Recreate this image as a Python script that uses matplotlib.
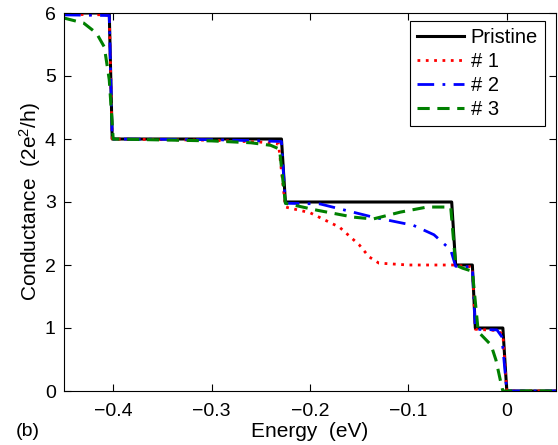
import matplotlib
matplotlib.use('Agg')
import matplotlib.pyplot as plt

plt.rcParams['font.family'] = ['Liberation Sans', 'DejaVu Sans']
plt.rcParams['mathtext.fontset'] = 'custom'
plt.rcParams['mathtext.rm'] = 'Liberation Sans'
plt.rcParams['mathtext.it'] = 'Liberation Sans:italic'

# Pristine ribbon: ideal staircase
e_pristine = [-0.45, -0.404, -0.401, -0.229, -0.225, -0.056, -0.052, -0.035, -0.032, -0.004, 0.0, 0.05]
g_pristine = [6, 6, 4, 4, 3, 3, 2, 2, 1, 1, 0, 0]

# defect #1
e_1 = [-0.45, -0.404, -0.401, -0.30, -0.25, -0.232, -0.225, -0.20, -0.17, -0.15, -0.14,
       -0.13, -0.10, -0.055, -0.035, -0.032, -0.01, -0.004, 0.0, 0.05]
g_1 = [5.98, 5.97, 4.0, 3.98, 3.95, 3.92, 2.92, 2.83, 2.6, 2.32, 2.13,
       2.03, 2.0, 2.0, 1.97, 0.98, 0.96, 0.9, 0.0, 0.0]

# defect #2
e_2 = [-0.45, -0.404, -0.401, -0.30, -0.25, -0.229, -0.225, -0.19, -0.136, -0.095,
       -0.074, -0.057, -0.052, -0.035, -0.032, -0.01, -0.005, 0.0, 0.05]
g_2 = [5.97, 5.96, 4.0, 3.99, 3.97, 3.96, 2.98, 2.97, 2.76, 2.63,
       2.48, 2.24, 1.98, 1.97, 0.98, 0.97, 0.86, 0.0, 0.0]

# defect #3
e_3 = [-0.45, -0.43, -0.417, -0.409, -0.404, -0.400, -0.30, -0.26, -0.24, -0.231,
       -0.225, -0.193, -0.156, -0.136, -0.108, -0.081, -0.057, -0.052, -0.045, -0.035,
       -0.029, -0.016, -0.011, -0.006, -0.004, 0.05]
g_3 = [5.92, 5.84, 5.68, 5.46, 4.94, 4.0, 3.97, 3.94, 3.9, 3.84,
       2.98, 2.87, 2.76, 2.73, 2.84, 2.92, 2.92, 2.0, 1.95, 1.9,
       0.94, 0.73, 0.49, 0.13, 0.0, 0.0]

fig = plt.figure(figsize=(5.58, 4.45), dpi=100)
ax = fig.add_axes([64 / 558, 54 / 445, 492 / 558, 378 / 445])

ax.plot(e_pristine, g_pristine, color='black', lw=2.2, label='Pristine')
ax.plot(e_1, g_1, color='red', lw=2, linestyle=(0, (1, 2)), label='# 1')
ax.plot(e_2, g_2, color='blue', lw=2, linestyle=(0, (6, 3, 1, 3)), label='# 2')
ax.plot(e_3, g_3, color=(0, 0.5, 0), lw=2.2, linestyle=(0, (4, 2.5)), label='# 3')

ax.set_xlim(-0.45, 0.05)
ax.set_ylim(0, 6)
ax.set_xticks([-0.4, -0.3, -0.2, -0.1, 0])
ax.set_xticklabels(['\u22120.4', '\u22120.3', '\u22120.2', '\u22120.1', '0'])
ax.set_yticks(range(7))
ax.tick_params(direction='in', top=True, right=True, labelsize=14, length=5, width=0.8)
ax.tick_params(axis='x', pad=9)
ax.tick_params(axis='y', pad=6)
for s in ax.spines.values():
    s.set_linewidth(0.8)

ax.set_xlabel('Energy  (eV)', fontsize=15, labelpad=1)
ax.set_ylabel('Conductance  (2e$^2$/h)', fontsize=15, labelpad=1)
fig.text(28 / 558, 1 - 431 / 445, '(b)', fontsize=14, ha='center', va='center')

leg = ax.legend(loc='upper right', bbox_to_anchor=(0.9776, 0.9788), borderaxespad=0,
                fontsize=14.5, handlelength=2.3, handletextpad=0.35, labelspacing=0.25,
                fancybox=False, framealpha=1, edgecolor='black', borderpad=0.35)
leg.get_frame().set_linewidth(0.8)

fig.savefig('out.png', dpi=100)
